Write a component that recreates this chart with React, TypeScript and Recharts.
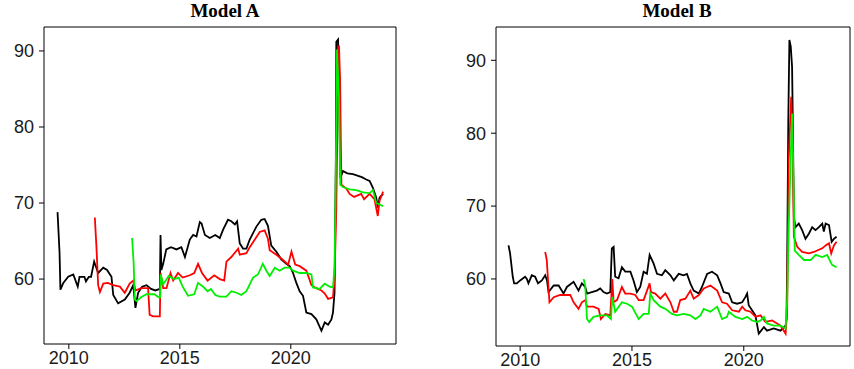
import React from "react";
import { LineChart, Line, XAxis, YAxis, ReferenceArea } from "recharts";

type P = [number, number];

const xTicks = [2010, 2015, 2020];
const yTicks = [60, 70, 80, 90];

const aBlack: P[] = [[2009.49,68.8],[2009.58,63.5],[2009.62,58.6],[2009.75,59.5],[2009.97,60.3],[2010.2,60.6],[2010.4,59.0],[2010.48,60.3],[2010.7,60.3],[2010.77,59.7],[2010.9,60.3],[2011.0,60.3],[2011.14,62.3],[2011.32,60.8],[2011.55,61.5],[2011.72,61.2],[2011.92,60.3],[2012.0,57.9],[2012.22,56.8],[2012.52,57.3],[2012.74,58.2],[2012.9,59.2],[2013.0,56.2],[2013.12,58.2],[2013.3,59.0],[2013.5,59.2],[2013.7,58.7],[2013.9,58.5],[2014.1,58.7],[2014.13,65.8],[2014.17,61.2],[2014.25,62.0],[2014.39,63.9],[2014.6,64.2],[2014.85,63.9],[2015.07,64.2],[2015.23,62.9],[2015.45,65.2],[2015.6,65.8],[2015.75,65.6],[2015.9,67.5],[2015.98,67.3],[2016.13,65.8],[2016.35,65.4],[2016.6,65.8],[2016.8,65.4],[2016.95,66.5],[2017.17,67.8],[2017.32,67.6],[2017.48,67.2],[2017.58,67.6],[2017.7,64.7],[2017.85,64.0],[2018.0,64.0],[2018.15,65.2],[2018.45,66.9],[2018.67,67.8],[2018.82,67.9],[2018.97,67.0],[2019.12,64.4],[2019.35,63.6],[2019.57,62.6],[2019.8,62.0],[2019.95,61.7],[2020.1,60.8],[2020.25,59.5],[2020.4,58.4],[2020.55,57.8],[2020.7,55.6],[2020.93,55.4],[2021.15,54.7],[2021.38,53.2],[2021.53,54.3],[2021.68,54.0],[2021.83,54.7],[2021.9,55.6],[2021.97,58.2],[2022.03,75.8],[2022.05,91.2],[2022.13,91.5],[2022.17,87.2],[2022.23,73.3],[2022.35,74.2],[2022.55,73.9],[2022.8,73.8],[2023.2,73.4],[2023.4,73.1],[2023.55,72.9],[2023.7,72.0],[2023.85,70.7],[2023.92,69.4],[2024.0,70.7],[2024.16,71.2]];

const aRed: P[] = [[2011.17,68.1],[2011.24,64.4],[2011.32,59.2],[2011.4,58.3],[2011.55,59.4],[2011.75,59.5],[2012.0,59.2],[2012.3,59.0],[2012.52,58.2],[2012.74,59.4],[2012.9,59.8],[2013.0,58.5],[2013.25,58.8],[2013.5,58.8],[2013.57,58.8],[2013.64,55.3],[2013.8,55.1],[2014.02,55.1],[2014.1,55.1],[2014.13,60.8],[2014.25,58.8],[2014.4,58.8],[2014.58,60.8],[2014.7,59.8],[2014.92,60.8],[2015.13,60.2],[2015.45,60.5],[2015.65,60.8],[2015.82,62.0],[2016.0,60.8],[2016.25,59.8],[2016.55,60.5],[2016.8,60.0],[2017.0,59.8],[2017.1,62.3],[2017.32,62.9],[2017.63,64.0],[2017.7,63.2],[2018.0,63.4],[2018.15,64.2],[2018.38,65.2],[2018.6,66.2],[2018.82,66.4],[2018.97,65.3],[2019.05,63.8],[2019.35,63.2],[2019.65,62.5],[2019.88,61.9],[2020.03,63.6],[2020.2,61.9],[2020.4,61.7],[2020.7,61.1],[2020.93,59.2],[2021.15,58.8],[2021.38,58.5],[2021.53,58.1],[2021.68,57.4],[2021.9,57.6],[2021.97,60.0],[2022.05,69.2],[2022.1,80.2],[2022.17,90.7],[2022.22,86.3],[2022.28,72.4],[2022.5,71.9],[2022.65,71.2],[2022.85,70.8],[2023.17,71.2],[2023.3,70.5],[2023.55,71.2],[2023.77,70.5],[2023.92,68.3],[2024.0,70.3],[2024.16,71.5]];

const aGreen: P[] = [[2012.85,65.4],[2012.92,62.0],[2012.97,57.3],[2013.05,57.1],[2013.25,57.6],[2013.5,58.0],[2013.85,58.0],[2014.05,57.6],[2014.11,57.6],[2014.14,60.6],[2014.25,59.3],[2014.5,60.4],[2014.75,60.0],[2014.95,60.2],[2015.13,59.0],[2015.37,57.8],[2015.65,58.0],[2015.82,59.5],[2016.05,59.0],[2016.25,58.4],[2016.4,58.7],[2016.6,57.9],[2016.8,57.7],[2017.1,57.7],[2017.32,58.4],[2017.55,58.2],[2017.77,57.9],[2018.0,58.4],[2018.3,60.2],[2018.52,60.6],[2018.74,62.0],[2018.9,61.1],[2019.05,60.4],[2019.28,61.5],[2019.5,61.1],[2019.72,61.5],[2019.95,61.5],[2020.1,61.1],[2020.4,60.8],[2020.7,60.8],[2020.93,60.6],[2021.0,58.9],[2021.3,58.7],[2021.53,59.4],[2021.75,59.0],[2021.9,58.9],[2021.97,61.4],[2022.02,72.0],[2022.08,90.2],[2022.17,84.0],[2022.23,72.4],[2022.35,72.1],[2022.65,71.8],[2022.95,71.7],[2023.25,71.4],[2023.55,71.3],[2023.7,71.7],[2023.85,70.0],[2024.0,69.8],[2024.16,69.6]];

const bBlack: P[] = [[2009.48,64.6],[2009.55,63.5],[2009.67,60.3],[2009.73,59.4],[2009.85,59.4],[2010.0,59.8],[2010.22,60.3],[2010.3,60.0],[2010.37,59.4],[2010.52,60.5],[2010.67,60.3],[2010.8,59.4],[2010.97,59.8],[2011.12,60.5],[2011.2,59.8],[2011.27,58.2],[2011.5,59.1],[2011.72,59.1],[2011.94,58.0],[2012.09,58.9],[2012.39,59.6],[2012.61,58.4],[2012.76,59.4],[2012.91,58.9],[2012.99,58.0],[2013.2,58.2],[2013.43,58.4],[2013.58,58.7],[2013.73,58.2],[2013.88,58.0],[2014.03,58.2],[2014.1,64.2],[2014.18,64.4],[2014.25,60.3],[2014.4,60.1],[2014.55,61.6],[2014.7,61.0],[2014.93,61.0],[2015.07,59.8],[2015.22,58.2],[2015.37,58.9],[2015.52,61.0],[2015.67,60.7],[2015.79,63.3],[2015.97,62.1],[2016.12,60.7],[2016.34,60.5],[2016.49,61.2],[2016.72,60.5],[2016.87,59.8],[2017.09,60.7],[2017.31,60.5],[2017.46,60.7],[2017.61,59.4],[2017.76,58.4],[2017.99,58.0],[2018.13,58.9],[2018.36,60.7],[2018.58,61.0],[2018.81,60.5],[2018.96,59.4],[2019.1,58.2],[2019.33,58.0],[2019.48,56.8],[2019.7,56.6],[2019.93,56.8],[2020.07,57.5],[2020.15,58.0],[2020.22,56.4],[2020.37,55.7],[2020.52,55.0],[2020.67,52.5],[2020.9,53.4],[2021.04,52.9],[2021.34,53.2],[2021.64,52.9],[2021.87,53.6],[2021.91,54.5],[2021.94,61.6],[2021.99,81.6],[2022.04,92.8],[2022.1,91.9],[2022.16,89.1],[2022.2,79.7],[2022.24,68.5],[2022.31,67.1],[2022.46,67.6],[2022.61,66.7],[2022.76,65.5],[2022.91,66.2],[2023.06,67.1],[2023.21,66.7],[2023.36,67.1],[2023.51,67.6],[2023.58,66.5],[2023.66,67.6],[2023.81,67.4],[2023.93,65.1],[2024.03,65.5],[2024.15,65.8]];

const bRed: P[] = [[2011.12,63.7],[2011.19,62.6],[2011.31,56.8],[2011.5,57.5],[2011.79,57.8],[2012.09,57.8],[2012.24,57.8],[2012.39,56.8],[2012.61,55.9],[2012.76,56.8],[2012.91,57.1],[2012.99,56.2],[2013.28,56.2],[2013.51,55.9],[2013.61,54.5],[2013.81,55.2],[2014.03,55.0],[2014.12,60.0],[2014.18,56.8],[2014.33,57.1],[2014.55,58.9],[2014.7,58.0],[2014.93,58.0],[2015.15,57.8],[2015.3,57.1],[2015.52,57.1],[2015.79,59.4],[2015.85,58.2],[2016.04,58.0],[2016.27,57.3],[2016.49,58.0],[2016.72,56.8],[2016.87,55.5],[2017.01,55.5],[2017.16,57.1],[2017.39,57.3],[2017.61,58.4],[2017.76,57.3],[2017.99,57.8],[2018.21,58.7],[2018.51,59.1],[2018.81,58.4],[2019.03,56.8],[2019.25,56.6],[2019.48,55.7],[2019.78,55.5],[2019.93,56.2],[2020.07,55.7],[2020.3,55.5],[2020.52,54.8],[2020.75,55.0],[2020.97,54.1],[2021.27,54.3],[2021.64,53.6],[2021.87,52.5],[2021.94,55.7],[2022.01,76.5],[2022.12,85.0],[2022.19,77.7],[2022.24,65.8],[2022.39,64.4],[2022.61,63.7],[2022.91,63.5],[2023.13,63.7],[2023.28,63.9],[2023.51,64.2],[2023.66,64.6],[2023.81,64.9],[2023.91,63.5],[2024.03,64.6],[2024.15,65.1]];

const bGreen: P[] = [[2012.84,60.0],[2012.91,59.1],[2012.99,54.5],[2013.09,54.1],[2013.28,54.8],[2013.58,55.0],[2013.88,55.0],[2014.06,54.5],[2014.12,57.5],[2014.25,55.5],[2014.55,56.8],[2014.78,56.6],[2015.0,56.2],[2015.3,54.5],[2015.52,55.2],[2015.75,55.2],[2015.82,58.0],[2015.97,57.1],[2016.27,56.2],[2016.49,55.9],[2016.79,55.2],[2017.01,55.0],[2017.31,55.2],[2017.61,55.0],[2017.84,54.5],[2018.06,55.0],[2018.21,55.9],[2018.51,55.5],[2018.81,56.2],[2019.03,54.5],[2019.25,54.8],[2019.33,55.5],[2019.63,54.8],[2019.93,54.5],[2020.15,54.8],[2020.37,54.3],[2020.6,54.1],[2020.75,54.3],[2020.9,54.8],[2021.04,53.9],[2021.34,53.6],[2021.64,53.6],[2021.87,53.2],[2021.94,57.1],[2022.01,67.1],[2022.09,75.8],[2022.16,82.7],[2022.24,70.8],[2022.28,63.9],[2022.46,63.3],[2022.69,62.6],[2022.99,62.6],[2023.21,63.3],[2023.51,63.0],[2023.73,63.3],[2023.88,62.3],[2023.96,61.9],[2024.15,61.6]];

const toRows = (pts: P[]) => pts.map(([t, v]) => ({ t, v }));

const tickFont = { fontFamily: "'Liberation Sans', Arial, sans-serif", fontSize: 18, fill: "#1a1a1a" };

type PanelProps = {
  title: string;
  black: P[];
  red: P[];
  green: P[];
  xDomain: [number, number];
  yDomain: [number, number];
  left: number;
  width: number;
  yAxisWidth: number;
  xAxisHeight: number;
  rightMargin: number;
  titleCenter: number;
};

function Panel(p: PanelProps) {
  return (
    <div style={{ position: "absolute", left: p.left, top: 0, width: p.width, height: 369 }}>
      <div
        style={{
          position: "absolute",
          left: p.titleCenter - 100,
          width: 200,
          top: 1,
          textAlign: "center",
          fontFamily: "'Liberation Serif', 'Times New Roman', serif",
          fontWeight: "bold",
          fontSize: 19,
          lineHeight: "19px",
          color: "#000",
        }}
      >
        {p.title}
      </div>
      <LineChart width={p.width} height={369} margin={{ top: 27, right: p.rightMargin, bottom: 0, left: 0 }}>
        <XAxis
          type="number"
          dataKey="t"
          domain={p.xDomain}
          ticks={xTicks}
          allowDataOverflow
          height={p.xAxisHeight}
          axisLine={false}
          tickLine={{ stroke: "#000" }}
          tickSize={5}
          tickMargin={2}
          tick={tickFont}
        />
        <YAxis
          type="number"
          dataKey="v"
          domain={p.yDomain}
          ticks={yTicks}
          allowDataOverflow
          width={p.yAxisWidth}
          axisLine={false}
          tickLine={{ stroke: "#000" }}
          tickSize={5}
          tickMargin={5}
          tick={tickFont}
        />
        <Line data={toRows(p.black)} dataKey="v" stroke="#000000" strokeWidth={1.8} dot={false} isAnimationActive={false} />
        <Line data={toRows(p.red)} dataKey="v" stroke="#ff0000" strokeWidth={1.8} dot={false} isAnimationActive={false} />
        <Line data={toRows(p.green)} dataKey="v" stroke="#00ee00" strokeWidth={1.8} dot={false} isAnimationActive={false} />
        <ReferenceArea
          x1={p.xDomain[0]}
          x2={p.xDomain[1]}
          y1={p.yDomain[0]}
          y2={p.yDomain[1]}
          fill="none"
          fillOpacity={0}
          stroke="#000"
          strokeWidth={1}
          ifOverflow="visible"
        />
      </LineChart>
    </div>
  );
}

export default function App() {
  return (
    <div style={{ position: "absolute", left: 0, top: 0, width: 854, height: 369, background: "#fff" }}>
      <Panel
        title="Model A"
        black={aBlack}
        red={aRed}
        green={aGreen}
        xDomain={[2008.88, 2024.74]}
        yDomain={[51.46, 93.15]}
        left={0}
        width={427}
        yAxisWidth={44}
        xAxisHeight={25}
        rightMargin={31}
        titleCenter={225}
      />
      <Panel
        title="Model B"
        black={bBlack}
        red={bRed}
        green={bGreen}
        xDomain={[2008.92, 2024.75]}
        yDomain={[50.8, 94.57]}
        left={427}
        width={427}
        yAxisWidth={69}
        xAxisHeight={23}
        rightMargin={4}
        titleCenter={250}
      />
    </div>
  );
}
